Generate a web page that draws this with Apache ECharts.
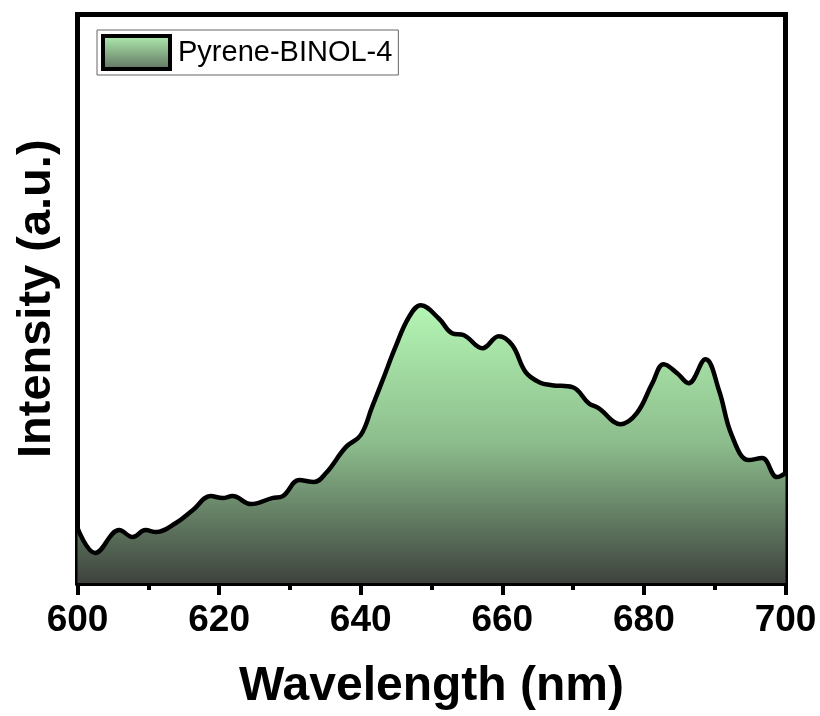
<!DOCTYPE html>
<html>
<head>
<meta charset="utf-8">
<script src="https://cdn.jsdelivr.net/npm/echarts@6/dist/echarts.min.js"></script>
<style>html,body{margin:0;padding:0;background:#fff;}#c{width:820px;height:716px;}</style>
</head>
<body>
<div id="c"></div>
<script>
const seriesName = 'Pyrene-BINOL-4';
const wavelength = [600, 602.5, 605.9, 607.8, 609.6, 611.1, 613.9, 616.3, 618.8, 620.5, 621.9, 624.5, 627.5, 629, 631.3, 633.4, 635.1, 637.9, 640, 641.6, 643.1, 644.9, 646.8, 648.5, 651, 652.9, 654.6, 657.2, 659.5, 661.4, 663.3, 665.2, 667, 669.9, 672.2, 673.6, 676.7, 679, 681.2, 682.8, 684.7, 686.3, 688.7, 690.6, 692.4, 694.8, 696.7, 698.8, 700];
const intensity = [55, 30, 53, 46, 53, 51, 60, 73, 87, 85, 87, 79, 85, 87, 103, 101, 110, 136, 148, 176, 203, 236, 266, 278, 265, 250, 248, 235, 247, 238, 211, 201, 198, 196, 180, 175, 159, 170, 200, 219, 210, 200, 224, 193, 148, 123, 125, 106, 110];
const xTicks = [600, 620, 640, 660, 680, 700];

const chart = echarts.init(document.getElementById('c'), null, {renderer: 'canvas'});
const fontFam = '"Liberation Sans", Arial, sans-serif';
const areaGrad = new echarts.graphic.LinearGradient(0, 0, 0, 1, [
  {offset: 0, color: '#b4f5b4'},
  {offset: 0.5, color: '#8cbc8c'},
  {offset: 1, color: '#3e433e'}
]);
const legendGrad = new echarts.graphic.LinearGradient(0, 0, 0, 1, [
  {offset: 0, color: '#b2f2b2'},
  {offset: 1, color: '#5e6e5e'}
]);
chart.setOption({
  animation: false,
  backgroundColor: '#fff',
  grid: {left: 77.5, right: 34.5, top: 14.5, bottom: 133, show: true, borderColor: '#000', borderWidth: 5, backgroundColor: 'transparent'},
  legend: {
    left: 97, top: 30,
    data: [{name: seriesName, icon: 'rect', itemStyle: {color: legendGrad, borderColor: '#000', borderWidth: 4}}],
    itemWidth: 67, itemHeight: 33,
    padding: [4, 6, 4, 4],
    backgroundColor: '#fff', borderColor: '#666', borderWidth: 1,
    textStyle: {fontFamily: fontFam, fontSize: 29, color: '#000', padding: [0, 0, 0, 3]}
  },
  xAxis: {
    type: 'value', min: 600, max: 700, interval: 20,
    name: 'Wavelength (nm)', nameLocation: 'middle', nameGap: 80,
    nameTextStyle: {fontFamily: fontFam, fontSize: 48, fontWeight: 'bold', color: '#000'},
    axisLine: {show: true, lineStyle: {color: '#000', width: 5}},
    axisTick: {show: true, length: 12, lineStyle: {color: '#000', width: 4}},
    minorTick: {show: true, splitNumber: 2, length: 7, lineStyle: {color: '#000', width: 4}},
    axisLabel: {fontFamily: fontFam, fontSize: 37, fontWeight: 'bold', color: '#000', margin: 19,
      formatter: v => xTicks.includes(v) ? String(v) : ''},
    splitLine: {show: false}
  },
  yAxis: {
    type: 'value', min: 0, max: 569,
    name: 'Intensity (a.u.)', nameLocation: 'middle', nameGap: 17,
    nameTextStyle: {fontFamily: fontFam, fontSize: 47, fontWeight: 'bold', color: '#000'},
    axisLine: {show: true, lineStyle: {color: '#000', width: 5}},
    axisTick: {show: false}, axisLabel: {show: false}, splitLine: {show: false}
  },
  series: [{
    name: seriesName, type: 'line', smooth: 0.4, symbol: 'none', clip: true,
    data: wavelength.map((w, i) => [w, intensity[i]]),
    lineStyle: {color: '#000', width: 4.5},
    itemStyle: {color: '#000'},
    areaStyle: {color: areaGrad, opacity: 1}
  }]
});
</script>
</body>
</html>
